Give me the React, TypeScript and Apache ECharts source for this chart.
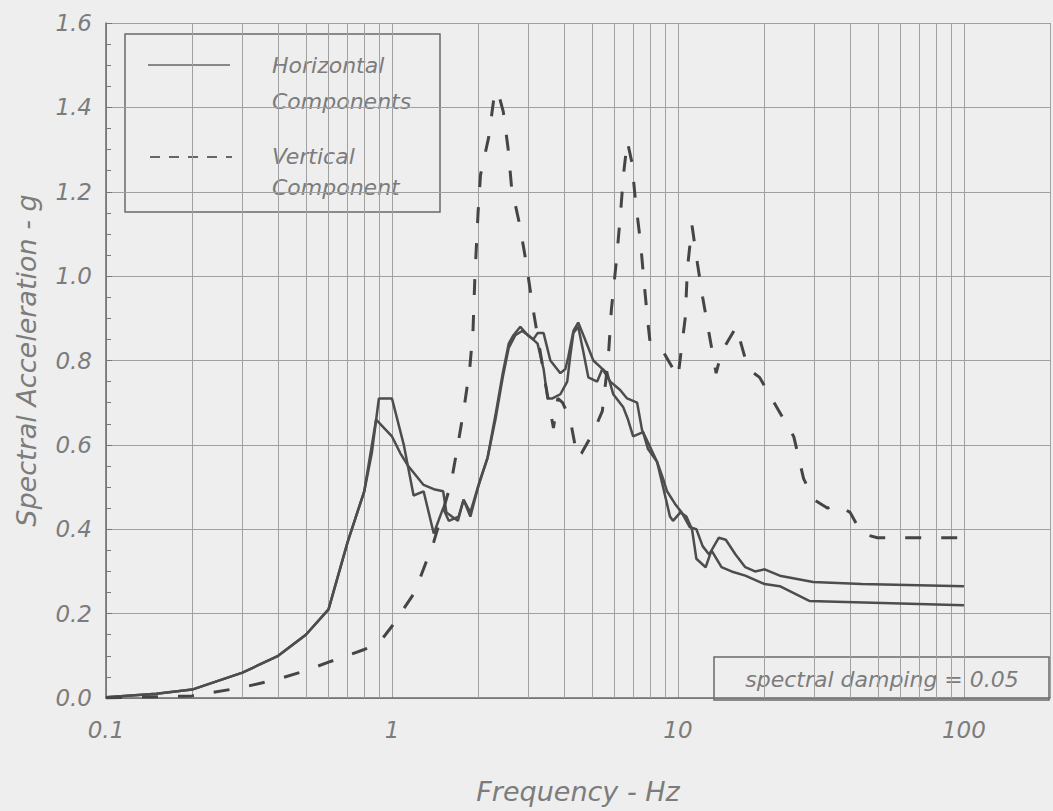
import React, { useEffect, useRef } from "react";
import * as echarts from "echarts";

// ---- Data (frequency in Hz, spectral acceleration in g) ----
const horizAFreq = [0.1, 0.15, 0.2, 0.3, 0.4, 0.5, 0.6, 0.7, 0.8, 0.85, 0.9, 1.0, 1.1, 1.19, 1.29, 1.4, 1.51, 1.58, 1.71, 1.78, 1.88, 2.04, 2.16, 2.3, 2.44, 2.56, 2.66, 2.81, 2.98, 3.12, 3.23, 3.39, 3.58, 3.88, 4.04, 4.14, 4.31, 4.48, 4.67, 5.06, 5.44, 5.8, 6.28, 6.64, 7.2, 7.49, 7.8, 8.45, 8.87, 9.16, 9.77, 10.3, 11.0, 11.6, 12.2, 12.85, 13.9, 14.7, 15.9, 17.2, 18.6, 20.1, 22.7, 29.7, 43.9, 100];
const horizAAcc = [0.002, 0.01, 0.02, 0.06, 0.1, 0.15, 0.21, 0.37, 0.49, 0.58, 0.71, 0.71, 0.6, 0.48, 0.49, 0.39, 0.45, 0.42, 0.43, 0.47, 0.44, 0.52, 0.57, 0.67, 0.77, 0.84, 0.86, 0.88, 0.86, 0.85, 0.865, 0.865, 0.8, 0.77, 0.78, 0.81, 0.87, 0.89, 0.86, 0.8, 0.78, 0.75, 0.73, 0.71, 0.7, 0.635, 0.61, 0.56, 0.52, 0.49, 0.46, 0.44, 0.405, 0.4, 0.36, 0.34, 0.38, 0.375, 0.34, 0.31, 0.3, 0.305, 0.29, 0.275, 0.27, 0.265];

const horizBFreq = [0.1, 0.15, 0.2, 0.3, 0.4, 0.5, 0.6, 0.7, 0.8, 0.88, 1.0, 1.07, 1.14, 1.29, 1.4, 1.51, 1.55, 1.62, 1.7, 1.78, 1.88, 2.0, 2.16, 2.3, 2.44, 2.56, 2.7, 2.85, 3.0, 3.23, 3.39, 3.5, 3.64, 3.88, 4.1, 4.2, 4.31, 4.48, 4.67, 4.86, 5.22, 5.44, 5.66, 5.94, 6.43, 6.69, 6.97, 7.55, 7.86, 8.45, 8.87, 9.38, 9.61, 10.2, 10.7, 11.2, 11.6, 12.5, 13.1, 14.2, 15.4, 17.2, 20.1, 22.7, 28.8, 100];
const horizBAcc = [0.002, 0.01, 0.02, 0.06, 0.1, 0.15, 0.21, 0.37, 0.49, 0.66, 0.62, 0.58, 0.55, 0.505, 0.495, 0.49, 0.44, 0.43, 0.42, 0.47, 0.43, 0.5, 0.57, 0.66, 0.76, 0.83, 0.86, 0.87, 0.86, 0.84, 0.78, 0.71, 0.71, 0.72, 0.75, 0.81, 0.865, 0.88, 0.82, 0.76, 0.75, 0.78, 0.77, 0.72, 0.69, 0.66, 0.62, 0.63, 0.59, 0.56, 0.5, 0.43, 0.42, 0.44, 0.43, 0.4, 0.33, 0.31, 0.35, 0.31, 0.3, 0.29, 0.27, 0.265, 0.23, 0.22];

const vertFreq = [0.1, 0.2, 0.3, 0.4, 0.5, 0.6, 0.8, 0.9, 1.0, 1.2, 1.4, 1.61, 1.7, 1.78, 1.87, 1.92, 1.95, 2.0, 2.04, 2.18, 2.27, 2.34, 2.45, 2.55, 2.62, 2.8, 2.95, 3.1, 3.3, 3.45, 3.67, 3.8, 3.95, 4.2, 4.45, 4.6, 5.06, 5.44, 5.7, 5.85, 6.1, 6.3, 6.45, 6.65, 6.9, 7.1, 7.4, 7.6, 7.85, 8.0, 8.9, 10.0, 10.6, 10.8, 11.2, 11.7, 12.2, 12.8, 13.6, 14.2, 16.0, 17.6, 19.3, 21.7, 25.4, 27.5, 29.9, 33.4, 35.6, 40.0, 43.9, 49.8, 100];
const vertAcc = [0.0, 0.005, 0.025, 0.045, 0.065, 0.085, 0.115, 0.13, 0.17, 0.25, 0.37, 0.51, 0.6, 0.68, 0.78, 0.87, 1.0, 1.15, 1.24, 1.33, 1.42, 1.44, 1.39, 1.3, 1.21, 1.12, 1.03, 0.93, 0.82, 0.74, 0.64, 0.71, 0.7, 0.66, 0.57, 0.58, 0.63, 0.68, 0.8, 0.92, 1.04, 1.15, 1.24, 1.32, 1.27, 1.18, 1.08, 0.99, 0.89, 0.84, 0.82, 0.76, 0.9, 1.02, 1.12, 1.03, 0.95, 0.87, 0.77, 0.82, 0.88, 0.78, 0.76, 0.7, 0.62, 0.52, 0.47, 0.45, 0.46, 0.44, 0.39, 0.38, 0.38];

const xTickLabels = ["0.1", "1", "10", "100"];
const minorGridFreqs = [0.2, 0.3, 0.4, 0.5, 0.6, 0.7, 0.8, 0.9, 2, 3, 4, 5, 6, 7, 8, 9, 20, 30, 40, 50, 60, 70, 80, 90];

const legendLabels = ["Horizontal", "Components", "Vertical", "Component"];
const dampingNote = "spectral damping = 0.05";
const xAxisTitle = "Frequency - Hz";
const yAxisTitle = "Spectral Acceleration - g";

const zip = (f: number[], a: number[]) => f.map((v, i) => [v, a[i]]);

const FONT = "DejaVu Sans";
const TEXT = "#7c7c7c";
const LINE = "#4d4d4d";
const GRID = "#a0a0a0";
const BG = "#eeeeee";

export default function App() {
  const ref = useRef<HTMLDivElement>(null);
  useEffect(() => {
    document.body.style.margin = "0";
    document.body.style.background = BG;
    const chart = echarts.init(ref.current!, null, { renderer: "svg" });
    const italic = { fontFamily: FONT, fontStyle: "italic" as const, color: TEXT };
    const legendText = (text: string, x: number, y: number) => ({
      type: "text",
      style: { text, x, y, fill: TEXT, fontSize: 22, fontStyle: "italic", fontFamily: FONT, verticalAlign: "middle" },
    });
    chart.setOption({
      animation: false,
      backgroundColor: BG,
      grid: { left: 106, top: 23, bottom: 113, right: -6 },
      xAxis: {
        type: "log",
        logBase: 10,
        min: 0.1,
        max: 200,
        name: xAxisTitle,
        nameLocation: "middle",
        nameGap: 80,
        nameTextStyle: { ...italic, fontSize: 27 },
        axisLine: { show: true, lineStyle: { color: "#6a6a6a", width: 1.5 } },
        axisTick: { show: false },
        axisLabel: {
          ...italic,
          fontSize: 23,
          margin: 20,
          formatter: (v: number) => {
            const l = Math.log10(v);
            const r = Math.round(l);
            if (Math.abs(l - r) < 1e-6 && r >= -1 && r <= 2) return xTickLabels[r + 1];
            return "";
          },
        },
        splitLine: { show: true, lineStyle: { color: GRID, width: 1 } },
      },
      yAxis: {
        type: "value",
        min: 0,
        max: 1.6,
        interval: 0.2,
        name: yAxisTitle,
        nameLocation: "middle",
        nameGap: 66,
        nameTextStyle: { ...italic, fontSize: 27 },
        axisLine: { show: true, lineStyle: { color: "#6a6a6a", width: 1.5 } },
        axisTick: { show: true, inside: true, length: 6, lineStyle: { color: "#777" } },
        minorTick: { show: true, splitNumber: 4, length: 5, lineStyle: { color: "#777" } },
        axisLabel: { ...italic, fontSize: 23, margin: 14, formatter: (v: number) => v.toFixed(1) },
        splitLine: { show: true, lineStyle: { color: GRID, width: 1 } },
      },
      series: [
        {
          name: "Horizontal Components A",
          type: "line",
          data: zip(horizAFreq, horizAAcc),
          showSymbol: false,
          lineStyle: { color: LINE, width: 2.5 },
          markLine: {
            silent: true,
            symbol: ["none", "none"],
            label: { show: false },
            lineStyle: { color: GRID, width: 1, type: "solid" },
            data: minorGridFreqs.map((f) => ({ xAxis: f })),
            z: 1,
          },
        },
        {
          name: "Horizontal Components B",
          type: "line",
          data: zip(horizBFreq, horizBAcc),
          showSymbol: false,
          lineStyle: { color: LINE, width: 2.5 },
        },
        {
          name: "Vertical Component",
          type: "line",
          data: zip(vertFreq, vertAcc),
          showSymbol: false,
          lineStyle: { color: "#454545", width: 3, type: [16, 20] },
        },
      ],
      graphic: [
        {
          type: "group",
          z: 100,
          children: [
            { type: "rect", shape: { x: 125, y: 34, width: 315, height: 178 }, style: { fill: BG, stroke: "#6a6a6a", lineWidth: 1.5 } },
            { type: "line", shape: { x1: 148, y1: 65, x2: 230, y2: 65 }, style: { stroke: "#666", lineWidth: 1.5 } },
            { type: "line", shape: { x1: 150, y1: 157, x2: 232, y2: 157 }, style: { stroke: "#666", lineWidth: 2, lineDash: [10, 9] } },
            legendText(legendLabels[0], 272, 65),
            legendText(legendLabels[1], 272, 101),
            legendText(legendLabels[2], 272, 156),
            legendText(legendLabels[3], 272, 187),
          ],
        },
        {
          type: "group",
          z: 100,
          children: [
            { type: "rect", shape: { x: 714, y: 657, width: 335, height: 43 }, style: { fill: BG, stroke: "#6a6a6a", lineWidth: 1.5 } },
            { type: "text", style: { text: dampingNote, x: 882, y: 679, fill: TEXT, fontSize: 22, fontStyle: "italic", fontFamily: FONT, align: "center", verticalAlign: "middle" } },
          ],
        },
      ],
    });
    return () => chart.dispose();
  }, []);
  return <div ref={ref} style={{ width: 1053, height: 811 }} />;
}
